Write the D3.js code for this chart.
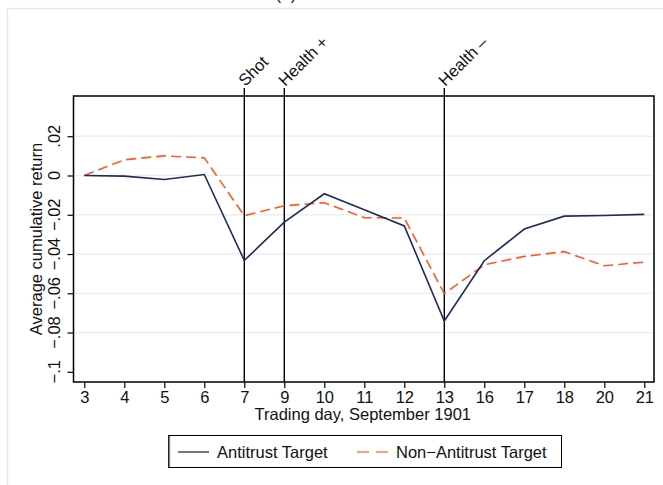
<!DOCTYPE html>
<html>
<head>
<meta charset="utf-8">
<script src="https://cdn.jsdelivr.net/npm/d3@7"></script>
<style>
  body { margin: 0; background: #fff; }
  text { font-family: "Liberation Sans", Arial, sans-serif; fill: #111; }
</style>
</head>
<body>
<figure id="chart" style="margin:0"></figure>
<script>
const days = ["3", "4", "5", "6", "7", "9", "10", "11", "12", "13", "16", "17", "18", "20", "21"];
const antitrust = [0, -0.0003, -0.002, 0.0005, -0.0433, -0.0238, -0.0093, -0.0175, -0.0257, -0.0741, -0.0434, -0.0273, -0.0207, -0.0204, -0.0198];
const nonAntitrust = [0, 0.008, 0.010, 0.009, -0.0205, -0.0154, -0.0139, -0.0215, -0.0217, -0.0602, -0.0455, -0.0412, -0.0388, -0.046, -0.0441];
const yTicks = [0.02, 0, -0.02, -0.04, -0.06, -0.08, -0.1];
const gridTicks = [0.02, 0, -0.02, -0.04, -0.06, -0.08];
const events = [{ day: "7", label: "Shot" }, { day: "9", label: "Health +" }, { day: "13", label: "Health \u2013" }];
const seriesNames = ["Antitrust Target", "Non\u2212Antitrust Target"];

const width = 663, height = 485;
const plot = { left: 73.5, right: 654, top: 96, bottom: 382 };
const navy = "#1f2b5a", orange = "#ff5a1f";
const fs = "16.5px";

const svg = d3.select("#chart").append("svg")
  .attr("width", width)
  .attr("height", height);

// faint outer frame of the figure
svg.append("path")
  .attr("d", "M7.5,485 V8.5 H663")
  .attr("fill", "none")
  .attr("stroke", "#e2ecee")
  .attr("stroke-width", 1.5);

// panel label, cut off at the top like the source
svg.append("text")
  .attr("x", 286).attr("y", 0)
  .attr("text-anchor", "middle")
  .style("font-size", "17px")
  .text("(a)");

const x = d3.scalePoint()
  .domain(days)
  .range([84.3, 644.3]);

const y = d3.scaleLinear()
  .domain([-0.1052, 0.0405])
  .range([plot.bottom, plot.top]);

// gridlines
svg.append("g")
  .selectAll("line")
  .data(gridTicks)
  .enter()
  .append("line")
    .attr("x1", plot.left).attr("x2", plot.right)
    .attr("y1", d => y(d)).attr("y2", d => y(d))
    .attr("stroke", "#e8f0f2")
    .attr("stroke-width", 1.3);

// y axis
const fmt = d => d === 0 ? "0" : d3.format(".2f")(d).replace("0.", ".").replace("-", "\u2212").replace(".10", ".1");
const yAxis = svg.append("g")
  .attr("transform", "translate(" + plot.left + ",0)")
  .call(d3.axisLeft(y).tickValues(yTicks).tickSize(6).tickFormat(""));
yAxis.select(".domain").remove();
yAxis.selectAll("line").attr("stroke", "#000").attr("stroke-width", 1.2);

svg.append("g")
  .selectAll("text")
  .data(yTicks)
  .enter()
  .append("text")
    .attr("text-anchor", "middle")
    .attr("transform", d => "translate(60," + y(d) + ")rotate(-90)")
    .style("font-size", fs)
    .text(fmt);

// x axis
const xAxis = svg.append("g")
  .attr("transform", "translate(0," + plot.bottom + ")")
  .call(d3.axisBottom(x).tickSize(6).tickPadding(3));
xAxis.select(".domain").remove();
xAxis.selectAll("line").attr("stroke", "#000").attr("stroke-width", 1.2);
xAxis.selectAll("text")
  .style("font-size", fs)
  .style("font-family", "'Liberation Sans', Arial, sans-serif")
  .attr("fill", "#111");

// axis titles
svg.append("text")
  .attr("text-anchor", "middle")
  .attr("transform", "translate(42," + ((plot.top + plot.bottom) / 2) + ")rotate(-90)")
  .style("font-size", fs)
  .text("Average cumulative return");

svg.append("text")
  .attr("text-anchor", "middle")
  .attr("x", (plot.left + plot.right) / 2 - 1)
  .attr("y", 420)
  .style("font-size", fs)
  .text("Trading day, September 1901");

// event lines
const ev = svg.append("g");
ev.selectAll("line")
  .data(events)
  .enter()
  .append("line")
    .attr("x1", d => x(d.day)).attr("x2", d => x(d.day))
    .attr("y1", plot.bottom).attr("y2", 88)
    .attr("stroke", "#000")
    .attr("stroke-width", 1.4);
ev.selectAll("text")
  .data(events)
  .enter()
  .append("text")
    .attr("transform", d => "translate(" + (x(d.day) + 1) + ",87)rotate(-45)")
    .style("font-size", fs)
    .text(d => d.label);

// series lines
const line = d3.line()
  .x((d, i) => x(days[i]))
  .y(d => y(d));

svg.append("path")
  .datum(nonAntitrust)
  .attr("d", line)
  .attr("fill", "none")
  .attr("stroke", orange)
  .attr("stroke-width", 1.6)
  .attr("stroke-dasharray", "10,5");

svg.append("path")
  .datum(antitrust)
  .attr("d", line)
  .attr("fill", "none")
  .attr("stroke", navy)
  .attr("stroke-width", 1.6);

// plot frame
svg.append("rect")
  .attr("x", plot.left).attr("y", plot.top)
  .attr("width", plot.right - plot.left)
  .attr("height", plot.bottom - plot.top)
  .attr("fill", "none")
  .attr("stroke", "#000")
  .attr("stroke-width", 1.5);

// legend
const lg = svg.append("g");
lg.append("rect")
  .attr("x", 168.5).attr("y", 435.5)
  .attr("width", 393).attr("height", 32)
  .attr("fill", "#fff")
  .attr("stroke", "#000")
  .attr("stroke-width", 1);
lg.append("line")
  .attr("x1", 169.5).attr("x2", 169.5).attr("y1", 436).attr("y2", 467)
  .attr("stroke", "#888").attr("stroke-width", 1.5);

const legendItems = [
  { name: seriesNames[0], color: navy, dash: null, x0: 178, tx: 217 },
  { name: seriesNames[1], color: orange, dash: "12,7", x0: 357, tx: 396 }
];
legendItems.forEach(it => {
  lg.append("line")
    .attr("x1", it.x0).attr("x2", it.x0 + 31)
    .attr("y1", 452).attr("y2", 452)
    .attr("stroke", it.color)
    .attr("stroke-opacity", 0.8)
    .attr("stroke-width", 1.6)
    .attr("stroke-dasharray", it.dash);
  lg.append("text")
    .attr("x", it.tx).attr("y", 458)
    .style("font-size", fs)
    .text(it.name);
});
</script>
</body>
</html>
